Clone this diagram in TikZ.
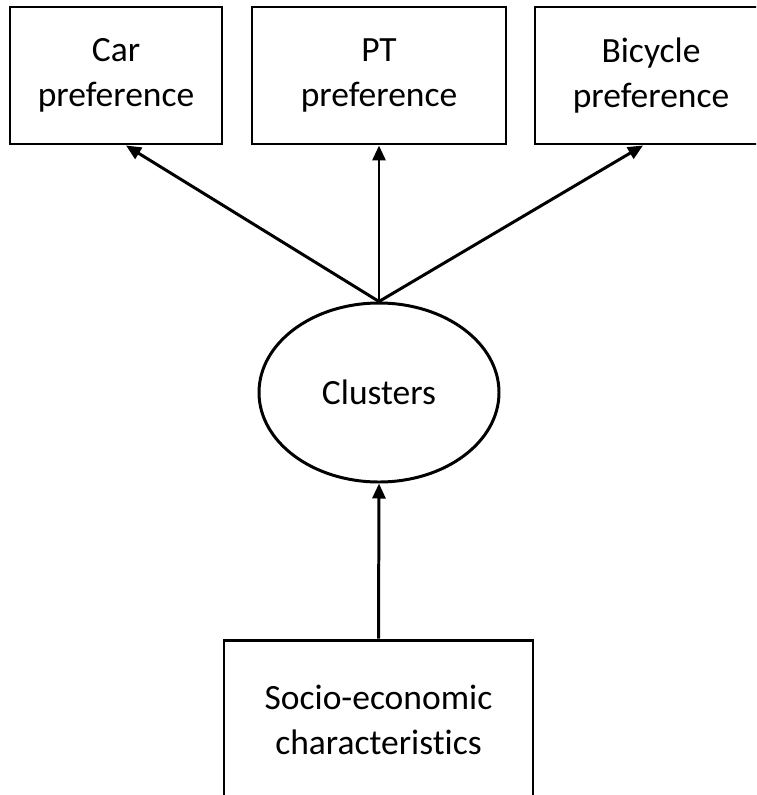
\documentclass[tikz,border=0pt]{standalone}
\usepackage{fontspec}
\setmainfont[Ligatures=NoCommon]{Carlito}
\usepackage{tikz}
\usetikzlibrary{calc,shapes.geometric,arrows.meta,positioning}

\begin{document}
\begin{tikzpicture}[
  font=\fontsize{20.2}{25.4}\selectfont,
  line width=1.7pt,
  pref/.style={draw, minimum height=2.74cm, align=center, inner sep=0pt},
  cluster/.style={draw, ellipse, minimum width=4.8cm, minimum height=3.58cm, inner sep=0pt},
  socbox/.style={draw, minimum width=6.18cm, minimum height=3.2cm, align=center, inner sep=0pt},
  flow/.style={-{Triangle[length=0.3cm, width=0.26cm]}},
]
  \useasboundingbox[clip] (0,0) rectangle (15.12,-15.9);

  % Top: mode preferences
  \node[pref, minimum width=4.24cm] (car) at (2.32,-1.51) {Car\\preference};
  \node[pref, minimum width=5.08cm] (pt) at (7.58,-1.51) {PT\\preference};
  \node[pref, minimum width=4.64cm] (bike) at (13.02,-1.51) {Bicycle\\preference};

  % Middle: latent classes
  \node[cluster] (clusters) at (7.58,-7.85) {Clusters};

  % Bottom: covariates
  \node[socbox] (socio) at (7.57,-14.4) {Socio-economic\\characteristics};

  % Arrows
  \draw[flow] (clusters.north) -- ([xshift=0.2cm]car.south);
  \draw[flow] (clusters.north) -- (pt.south);
  \draw[flow] (clusters.north) -- ([xshift=-0.16cm]bike.south);
  \draw[flow] (socio.north) -- (clusters.south);
\end{tikzpicture}
\end{document}
